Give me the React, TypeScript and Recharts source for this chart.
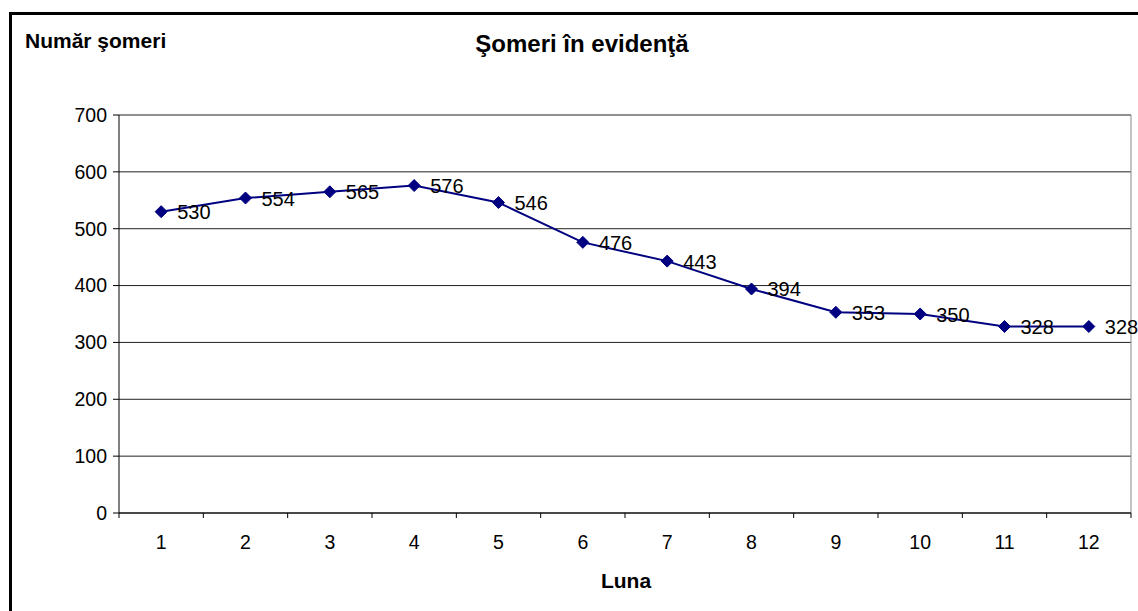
import React from "react";
import {
  LineChart,
  Line,
  XAxis,
  YAxis,
  CartesianGrid,
  ReferenceLine,
  LabelList,
} from "recharts";

const months = [1, 2, 3, 4, 5, 6, 7, 8, 9, 10, 11, 12];
const unemployed = [530, 554, 565, 576, 546, 476, 443, 394, 353, 350, 328, 328];
const yTicks = [0, 100, 200, 300, 400, 500, 600, 700];

const data = months.map((m, i) => ({ luna: m, value: unemployed[i] }));
// label ticks at integers, tick marks at the band edges
const xTicks = [0.5, ...months.flatMap((m) => [m, m + 0.5])];

const font = "Arial, 'Liberation Sans', sans-serif";

const MonthTick = (props: any) => {
  const { x, y, payload } = props;
  const v = payload.value;
  if (Number.isInteger(v)) {
    return (
      <text x={x} y={y + 36} textAnchor="middle" fontSize={19.5} fontFamily={font} fill="#000">
        {v}
      </text>
    );
  }
  return <line x1={x} x2={x} y1={y} y2={y + 5} stroke="#000" strokeWidth={1} />;
};

const Diamond = (props: any) => {
  const { cx, cy } = props;
  if (cx == null || cy == null) return null;
  const r = 6;
  return (
    <polygon
      points={`${cx},${cy - r} ${cx + r},${cy} ${cx},${cy + r} ${cx - r},${cy}`}
      fill="#000080"
      stroke="#000080"
      strokeWidth={1}
    />
  );
};

const ValueLabel = (props: any) => {
  const { x, y, value } = props;
  return (
    <text x={x + 16} y={y + 7.5} fontSize={20} fontFamily={font} fill="#000">
      {value}
    </text>
  );
};

export default function App() {
  return (
    <div
      style={{
        position: "fixed",
        left: 0,
        top: 0,
        width: 1138,
        height: 611,
        overflow: "hidden",
        background: "#fff",
        fontFamily: font,
      }}
    >
      <div
        style={{
          position: "absolute",
          left: 9,
          top: 12,
          width: 1300,
          height: 800,
          borderTop: "3px solid #000",
          borderLeft: "3px solid #000",
        }}
      />
      <div style={{ position: "absolute", left: 0, top: 0 }}>
        <LineChart
          width={1138}
          height={611}
          data={data}
          margin={{ top: 115, right: 7, bottom: 0, left: 0 }}
        >
          <CartesianGrid horizontal vertical={false} stroke="#222" strokeOpacity={1} />
          <XAxis
            dataKey="luna"
            type="number"
            domain={[0.5, 12.5]}
            ticks={xTicks}
            interval={0}
            height={98}
            tickSize={0}
            tickMargin={0}
            tickLine={false}
            tick={<MonthTick />}
            axisLine={{ stroke: "#000" }}
          />
          <YAxis
            width={119}
            domain={[0, 700]}
            ticks={yTicks}
            interval={0}
            tickSize={6}
            tickMargin={6}
            tick={{ fill: "#000", fontSize: 19.5, fontFamily: font }}
            tickLine={{ stroke: "#000" }}
            axisLine={{ stroke: "#000" }}
          />
          <ReferenceLine x={12.5} stroke="#888" />
          <Line
            type="linear"
            dataKey="value"
            stroke="#000080"
            strokeWidth={2}
            dot={<Diamond />}
            activeDot={false}
            isAnimationActive={false}
          >
            <LabelList dataKey="value" content={<ValueLabel />} />
          </Line>
        </LineChart>
      </div>
      <svg
        width={1138}
        height={611}
        style={{ position: "absolute", left: 0, top: 0, pointerEvents: "none" }}
      >
        <text x={25} y={48} fontSize={21} fontWeight="bold" fontFamily={font} fill="#000">
          Număr şomeri
        </text>
        <text
          x={582}
          y={52}
          textAnchor="middle"
          fontSize={24}
          fontWeight="bold"
          fontFamily={font}
          fill="#000"
        >
          Şomeri în evidenţă
        </text>
        <text
          x={626}
          y={588}
          textAnchor="middle"
          fontSize={21}
          fontWeight="bold"
          fontFamily={font}
          fill="#000"
        >
          Luna
        </text>
      </svg>
    </div>
  );
}
